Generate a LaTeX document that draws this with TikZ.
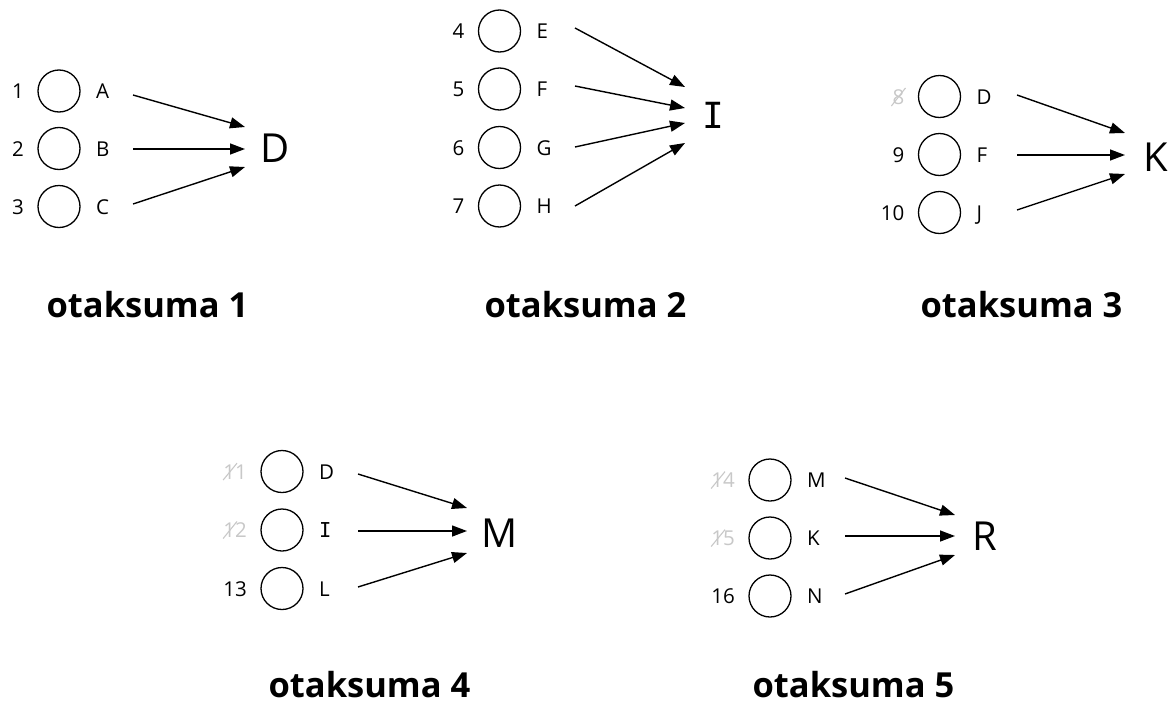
\documentclass[tikz,border=0pt]{standalone}
\usepackage{fontspec}
\setmainfont{Open Sans}
\newfontfamily\serifI{DejaVu Sans Mono}
\usetikzlibrary{arrows.meta,calc}
\definecolor{strikegray}{HTML}{C8C8C8}
\tikzset{
  ring/.style={draw, circle, minimum size=42pt, inner sep=0pt, line width=1.3pt},
  numlbl/.style={anchor=base east, inner sep=0pt, font=\fontsize{20.5}{24}\selectfont},
  oldnum/.style={numlbl, text=strikegray},
  letlbl/.style={anchor=base west, inner sep=0pt, font=\fontsize{20.5}{24}\selectfont},
  biglbl/.style={anchor=base west, inner sep=0pt, font=\fontsize{40}{46}\selectfont},
  ttl/.style={anchor=base, inner sep=0pt, font=\bfseries\fontsize{34.5}{40}\selectfont},
  arr/.style={line width=1.4pt, -{Triangle[length=15pt,width=11pt]}},
  slash/.style={draw=strikegray, line width=1.1pt},
}
% row: #1 name, #2 x, #3 y, #4 number, #5 letter, #6 number style
\newcommand\crow[6]{%
  \node[ring] (c#1) at (#2,#3) {};
  \node[#6] (n#1) at ($(#2,#3)+(-35,7.5)$) {#4};
  \node[letlbl] (l#1) at ($(#2,#3)+(37,7.5)$) {#5};
}
\begin{document}
\begin{tikzpicture}[x=1pt,y=-1pt]
\useasboundingbox (0,0) rectangle (1172,704);

% ---------- group 1
\crow{1}{59}{91}{1}{A}{numlbl}
\crow{2}{59}{148.5}{2}{B}{numlbl}
\crow{3}{59}{206.5}{3}{C}{numlbl}
\node[biglbl] (tD) at (260,162) {D};
\coordinate (s1) at (133,95);  \coordinate (e1) at (245,127);
\coordinate (s2) at (133,149); \coordinate (e2) at (245,149);
\coordinate (s3) at (133,204); \coordinate (e3) at (245,167);
\draw[arr] (s1) -- (e1);
\draw[arr] (s2) -- (e2);
\draw[arr] (s3) -- (e3);
\node[ttl] (t1) at (147.5,317) {otaksuma 1};

% ---------- group 2
\crow{4}{499.5}{31}{4}{E}{numlbl}
\crow{5}{499.5}{89}{5}{F}{numlbl}
\crow{6}{499.5}{147.5}{6}{G}{numlbl}
\crow{7}{499.5}{206}{7}{H}{numlbl}
\node[biglbl, anchor=base, font=\serifI\fontsize{36}{42}\selectfont] (tI) at (713,128) {I};
\coordinate (s4) at (575,28);  \coordinate (e4) at (685,87);
\coordinate (s5) at (575,86);  \coordinate (e5) at (685,108);
\coordinate (s6) at (575,147); \coordinate (e6) at (685,123);
\coordinate (s7) at (575,206); \coordinate (e7) at (685,143);
\draw[arr] (s4) -- (e4);
\draw[arr] (s5) -- (e5);
\draw[arr] (s6) -- (e6);
\draw[arr] (s7) -- (e7);
\node[ttl] (t2) at (585.5,317) {otaksuma 2};

% ---------- group 3
\crow{8}{939.5}{96.5}{8}{D}{oldnum}
\crow{9}{939.5}{154.5}{9}{F}{numlbl}
\crow{10}{939.5}{212.5}{10}{J}{numlbl}
\draw[slash] ([shift={(-1,2)}]n8.base west) -- ([shift={(1,-1)}]n8.north east);
\node[biglbl] (tK) at (1143,171) {K};
\coordinate (s8) at (1017,95);   \coordinate (e8) at (1125,133);
\coordinate (s9) at (1017,155);  \coordinate (e9) at (1125,155);
\coordinate (s10) at (1017,210); \coordinate (e10) at (1125,174);
\draw[arr] (s8) -- (e8);
\draw[arr] (s9) -- (e9);
\draw[arr] (s10) -- (e10);
\node[ttl] (t3) at (1021.5,317) {otaksuma 3};

% ---------- group 4
\crow{11}{282}{471.5}{11}{D}{oldnum}
\crow{12}{282}{530}{12}{{\serifI I}}{oldnum}
\crow{13}{282}{588.5}{13}{L}{numlbl}
\draw[slash] ([shift={(0,1)}]n11.base west) -- ([shift={(-10,-1)}]n11.north east);
\draw[slash] ([shift={(0,1)}]n12.base west) -- ([shift={(-10,-1)}]n12.north east);
\node[biglbl] (tM) at (481,547) {M};
\coordinate (s11) at (358,474); \coordinate (e11) at (467,508);
\coordinate (s12) at (358,531); \coordinate (e12) at (467,531);
\coordinate (s13) at (358,587); \coordinate (e13) at (467,553);
\draw[arr] (s11) -- (e11);
\draw[arr] (s12) -- (e12);
\draw[arr] (s13) -- (e13);
\node[ttl] (t4) at (369.5,697) {otaksuma 4};

% ---------- group 5
\crow{14}{770}{480}{14}{M}{oldnum}
\crow{15}{770}{538}{15}{K}{oldnum}
\crow{16}{770}{596}{16}{N}{numlbl}
\draw[slash] ([shift={(0,1)}]n14.base west) -- ([shift={(-10,-1)}]n14.north east);
\draw[slash] ([shift={(0,1)}]n15.base west) -- ([shift={(-10,-1)}]n15.north east);
\node[biglbl] (tR) at (972,550) {R};
\coordinate (s14) at (845,478); \coordinate (e14) at (955,515);
\coordinate (s15) at (845,536); \coordinate (e15) at (955,536);
\coordinate (s16) at (845,594); \coordinate (e16) at (955,555);
\draw[arr] (s14) -- (e14);
\draw[arr] (s15) -- (e15);
\draw[arr] (s16) -- (e16);
\node[ttl] (t5) at (853.5,697) {otaksuma 5};
\end{tikzpicture}
\end{document}
